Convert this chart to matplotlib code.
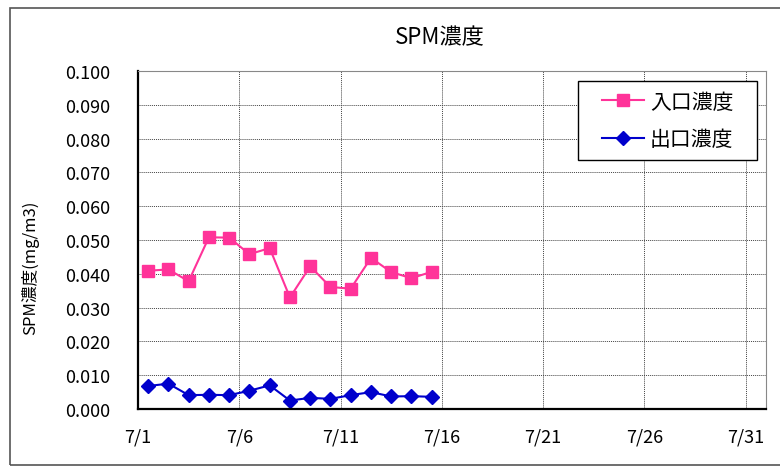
import datetime as dt
import matplotlib
matplotlib.use("Agg")
import matplotlib.pyplot as plt
from matplotlib.patches import Rectangle
from matplotlib.path import Path

plt.rcParams['font.family'] = ['Noto Sans CJK JP', 'DejaVu Sans']

# daily values, July 1-15
days = list(range(1, 16))
inlet = [0.0409, 0.0413, 0.0378, 0.0508, 0.0507, 0.0458, 0.0476, 0.0330, 0.0422,
         0.0361, 0.0356, 0.0447, 0.0405, 0.0387, 0.0406]
outlet = [0.0068, 0.0075, 0.0041, 0.0042, 0.0041, 0.0054, 0.0070, 0.0025, 0.0033,
          0.0030, 0.0041, 0.0050, 0.0037, 0.0038, 0.0036]
tick_days = [1, 6, 11, 16, 21, 26, 31]

dates = [dt.datetime(2010, 7, d, 12) for d in days]


def wide_box(x0, y0, width, height, mutation_size):
    # legend frame with extra room left and right, like the Excel one
    px = 0.7 * mutation_size
    return Path([(x0 - px, y0), (x0 + width + px, y0), (x0 + width + px, y0 + height),
                 (x0 - px, y0 + height), (x0 - px, y0)], closed=True)


fig = plt.figure(figsize=(7.8, 4.77), dpi=100)
fig.patches.append(Rectangle((10 / 780, 1 - 466 / 477), 2.0, (466 - 9) / 477,
                             transform=fig.transFigure, fill=False,
                             edgecolor='#555555', linewidth=1.2))
ax = fig.add_axes([138 / 780, 1 - 410 / 477, (766 - 138) / 780, (410 - 72) / 477])

ax.plot(dates, inlet, color='#FF3399', marker='s', markersize=9, linewidth=1.5,
        label='入口濃度')
ax.plot(dates, outlet, color='#0000CC', marker='D', markersize=7, linewidth=1.5,
        label='出口濃度')

ax.set_xlim(dt.datetime(2010, 7, 1), dt.datetime(2010, 8, 1))
ax.set_ylim(0, 0.1)
ax.set_yticks([i / 100 for i in range(11)])
ax.yaxis.set_major_formatter(plt.FuncFormatter(lambda v, p: f'{v:.3f}'))
ax.set_xticks([dt.datetime(2010, 7, d) for d in tick_days])
ax.set_xticklabels([f'7/{d}' for d in tick_days])
ax.tick_params(axis='both', labelsize=13, length=0)
ax.tick_params(axis='x', pad=13)
ax.tick_params(axis='y', pad=20)
ax.grid(True, color='#444444', linestyle=(0, (1, 1)), linewidth=0.7)

for s in ['left', 'bottom']:
    ax.spines[s].set_linewidth(1.6)
    ax.spines[s].set_color('black')
for s in ['top', 'right']:
    ax.spines[s].set_color('#888888')

ax.set_ylabel('SPM濃度(mg/m3)', fontsize=12)
ax.yaxis.set_label_coords(-0.157, 0.42)
fig.text(440 / 780, 1 - 38 / 477, 'SPM濃度', fontsize=16, ha='center', va='center')

leg = ax.legend(loc='upper right', bbox_to_anchor=(0.963, 0.97), fontsize=15,
                frameon=True, fancybox=False, edgecolor='black', framealpha=1,
                handlelength=2.0, handletextpad=0.3, borderpad=0.45,
                labelspacing=0.75, borderaxespad=0)
leg.get_frame().set_linewidth(1.0)
leg.get_frame().set_boxstyle(wide_box)

fig.savefig('out.png', dpi=100)
